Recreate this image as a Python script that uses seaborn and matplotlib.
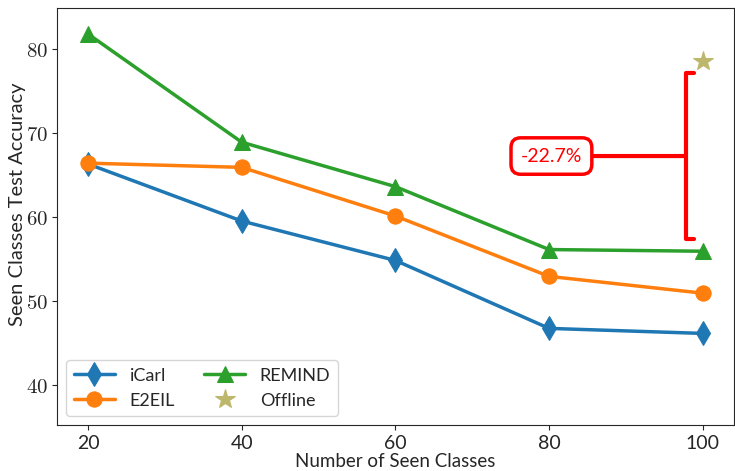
import numpy as np
import pandas as pd
import matplotlib
matplotlib.use("Agg")
import matplotlib.pyplot as plt
import seaborn as sns

# ── Data ───────────────────────────────────────────────────────────────────────
seen_classes = [20, 40, 60, 80, 100]
icarl_acc = [66.3, 59.5, 54.8, 46.7, 46.1]
e2eil_acc = [66.4, 65.9, 60.1, 52.9, 50.9]
remind_acc = [81.8, 68.9, 63.6, 56.1, 55.9]
offline_classes = [100]
offline_acc = [78.6]

drop_label = "-22.7%"

sns.set_style("ticks")
plt.rcParams["font.family"] = ["Lato", "DejaVu Sans"]
plt.rcParams["mathtext.fontset"] = "cm"

fig, ax = plt.subplots(figsize=(7.35, 4.71), dpi=100)

series = [
    ("iCarl", icarl_acc, "#1f77b4", "d", 12),
    ("E2EIL", e2eil_acc, "#ff7f0e", "o", 11),
    ("REMIND", remind_acc, "#2ca02c", "^", 11),
]
for name, vals, color, marker, ms in series:
    sns.lineplot(x=seen_classes, y=vals, ax=ax, color=color, marker=marker,
                 markersize=ms, markeredgecolor=color, linewidth=2.5, label=name)

sns.lineplot(x=offline_classes, y=offline_acc, ax=ax, color="#bdb76b",
             marker="*", markersize=15, markeredgecolor="#bdb76b",
             linestyle="", label="Offline")

# bracket showing the gap between REMIND and offline at 100 classes
gap_mid = (offline_acc[0] + remind_acc[-1]) / 2
ax.annotate(drop_label, xy=(97.8, gap_mid), xytext=(80.3, gap_mid),
            fontsize=14, color="red", ha="center", va="center",
            bbox=dict(boxstyle="round,pad=0.5", fc="white", ec="red", lw=2.5),
            arrowprops=dict(arrowstyle="-[, widthB=3.0, lengthB=0.3",
                            color="red", lw=3, mutation_scale=20,
                            shrinkA=0, shrinkB=0))

ax.set_xlim(16, 104)
ax.set_ylim(35.2, 84.9)
ax.set_xticks(seen_classes)
ax.set_yticks([40, 50, 60, 70, 80])
ax.set_yticklabels([f"${v}$" for v in [40, 50, 60, 70, 80]], fontsize=15)
ax.tick_params(axis="x", labelsize=14)
ax.set_xlabel("Number of Seen Classes", fontsize=13.5, labelpad=1)
ax.set_ylabel("Seen Classes Test Accuracy", fontsize=14.5)
ax.yaxis.set_label_coords(-0.047, 0.53)
ax.legend(loc="lower left", ncol=2, fontsize=13, columnspacing=1.6,
          handlelength=2.3, markerscale=1.0)

fig.subplots_adjust(left=0.078, right=0.998, top=0.983, bottom=0.098)
fig.savefig("out.png", dpi=100)
